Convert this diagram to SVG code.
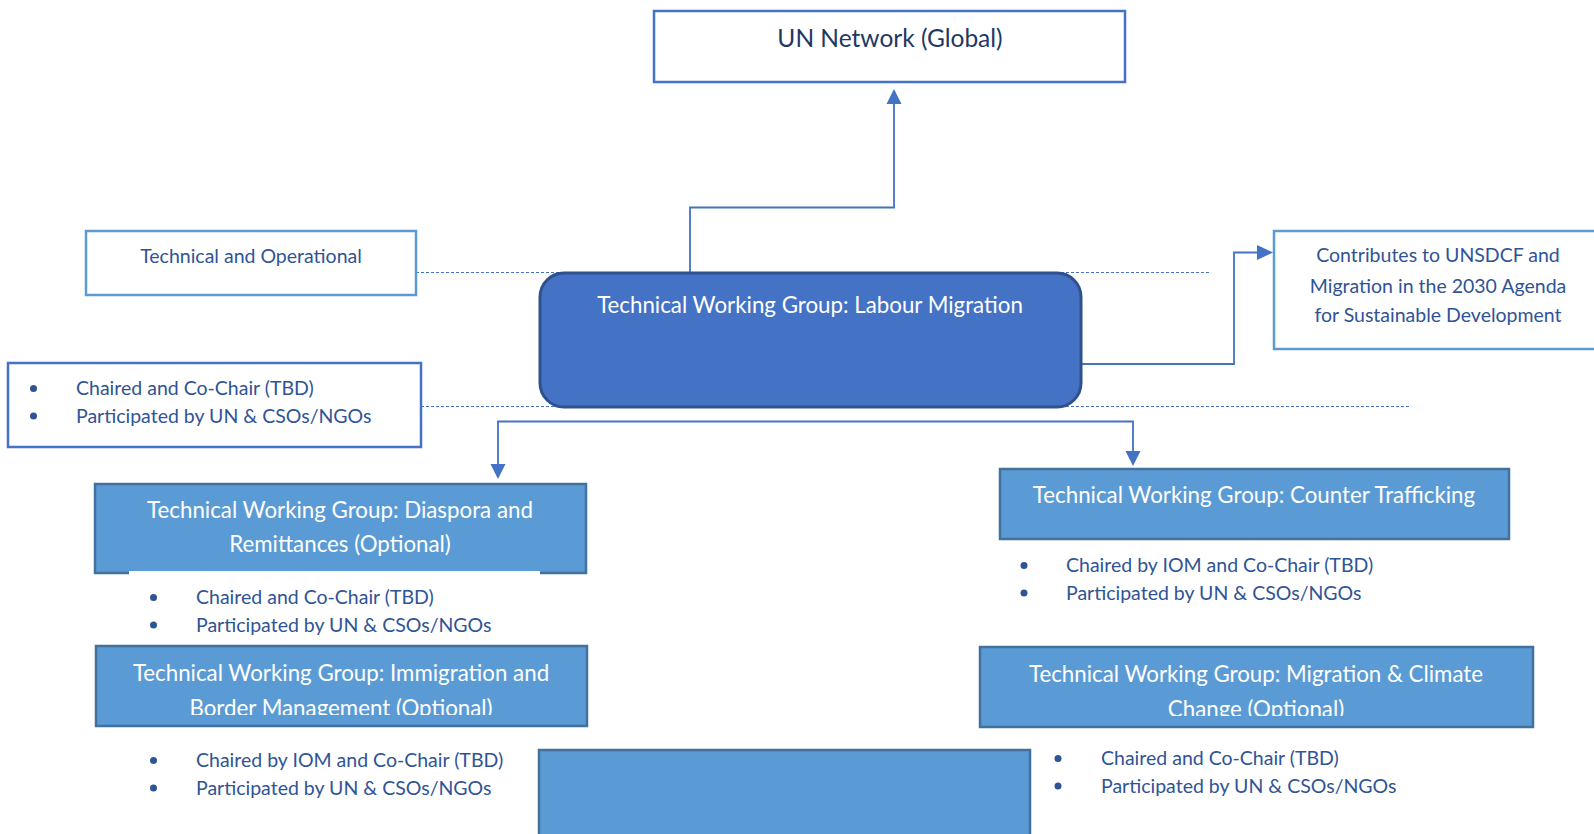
<svg xmlns="http://www.w3.org/2000/svg" width="1594" height="834" viewBox="0 0 1594 834">
<style>
text{font-family:Lato,"Noto Sans",sans-serif}
.t{font-size:19.5px;fill:#2F5496}
.h{font-size:22.3px;fill:#ffffff;text-anchor:middle}
.c{text-anchor:middle}
.sub{fill:#5B9BD5;stroke:#41719C;stroke-width:2.5}
.ob{fill:#ffffff;stroke:#4472C4;stroke-width:2.5}
.lb{fill:#ffffff;stroke:#5B9BD5;stroke-width:2.5}
.dot{fill:#2F5496}
.con{fill:none;stroke:#4472C4;stroke-width:1.8}
.dash{fill:none;stroke:#4472C4;stroke-width:1;stroke-dasharray:3 2}
</style>
<defs>
<clipPath id="clipImm"><rect x="96" y="646" width="491" height="69"/></clipPath>
<clipPath id="clipClim"><rect x="979" y="647" width="554" height="69"/></clipPath>
</defs>
<rect width="1594" height="834" fill="#ffffff"/>

<g id="guides">
<line class="dash" x1="416" y1="272.5" x2="1210" y2="272.5"/>
<line class="dash" x1="421" y1="406.5" x2="1410" y2="406.5"/>
</g>

<g id="connectors">
<polyline class="con" points="690,272 690,207.5 894,207.5 894,100" stroke-width="2"/>
<polygon points="894,89 886.5,104 901.5,104" fill="#4472C4"/>
<polyline class="con" points="1081,364 1234,364 1234,252.5 1258,252.5"/>
<polygon points="1273,252.5 1257,245 1257,260" fill="#4472C4"/>
<polyline class="con" points="498,464 498,421.5 1133,421.5 1133,451"/>
<polygon points="498,479 490.5,464 505.5,464" fill="#4472C4"/>
<polygon points="1133,466 1125.5,451 1140.5,451" fill="#4472C4"/>
</g>

<g id="un-network">
<rect x="654" y="11" width="471" height="71" class="ob" stroke-width="3"/>
<text x="890" y="47" class="c" font-size="24.5" fill="#1F3864">UN Network (Global)</text>
</g>

<g id="tech-operational">
<rect x="86" y="231" width="330" height="64" class="lb"/>
<text x="251" y="263" class="t c">Technical and Operational</text>
</g>

<g id="main-bullets">
<rect x="8" y="363" width="413" height="84" class="ob"/>
<circle cx="33.5" cy="388.5" r="3.5" class="dot"/>
<circle cx="33.5" cy="416" r="3.5" class="dot"/>
<text x="76" y="395" class="t">Chaired and Co-Chair (TBD)</text>
<text x="76" y="423" class="t">Participated by UN &amp; CSOs/NGOs</text>
</g>

<g id="labour-migration">
<rect x="540" y="273" width="541" height="134" rx="24" fill="#4472C4" stroke="#2F528F" stroke-width="3"/>
<text x="810" y="313" class="h">Technical Working Group: Labour Migration</text>
</g>

<g id="contributes">
<rect x="1274" y="231" width="330" height="118" class="lb"/>
<text x="1438" y="262" class="t c">Contributes to UNSDCF and</text>
<text x="1438" y="293" class="t c">Migration in the 2030 Agenda</text>
<text x="1438" y="322" class="t c">for Sustainable Development</text>
</g>

<g id="diaspora">
<rect x="95" y="484" width="491" height="89" class="sub"/>
<rect x="129" y="571" width="411" height="4" fill="#ffffff"/>
<text x="340" y="518" class="h">Technical Working Group: Diaspora and</text>
<text x="340" y="552" class="h">Remittances (Optional)</text>
<circle cx="153.5" cy="597.5" r="3.5" class="dot"/>
<circle cx="153.5" cy="625" r="3.5" class="dot"/>
<text x="196" y="604" class="t">Chaired and Co-Chair (TBD)</text>
<text x="196" y="632" class="t">Participated by UN &amp; CSOs/NGOs</text>
</g>

<g id="counter-trafficking">
<rect x="1000" y="469" width="509" height="70" class="sub"/>
<text x="1254" y="503" class="h">Technical Working Group: Counter Trafficking</text>
<circle cx="1024" cy="565.5" r="3.5" class="dot"/>
<circle cx="1024" cy="593" r="3.5" class="dot"/>
<text x="1066" y="572" class="t">Chaired by IOM and Co-Chair (TBD)</text>
<text x="1066" y="600" class="t">Participated by UN &amp; CSOs/NGOs</text>
</g>

<g id="immigration">
<rect x="96" y="646" width="491" height="80" class="sub"/>
<g clip-path="url(#clipImm)">
<text x="341" y="681" class="h">Technical Working Group: Immigration and</text>
<text x="341" y="716" class="h">Border Management (Optional)</text>
</g>
<circle cx="153.5" cy="760.5" r="3.5" class="dot"/>
<circle cx="153.5" cy="788" r="3.5" class="dot"/>
<text x="196" y="767" class="t">Chaired by IOM and Co-Chair (TBD)</text>
<text x="196" y="795" class="t">Participated by UN &amp; CSOs/NGOs</text>
</g>

<g id="climate">
<rect x="980" y="647" width="553" height="80" class="sub"/>
<g clip-path="url(#clipClim)">
<text x="1256" y="682" class="h">Technical Working Group: Migration &amp; Climate</text>
<text x="1256" y="717" class="h">Change (Optional)</text>
</g>
<circle cx="1058" cy="758.5" r="3.5" class="dot"/>
<circle cx="1058" cy="786" r="3.5" class="dot"/>
<text x="1101" y="765" class="t">Chaired and Co-Chair (TBD)</text>
<text x="1101" y="793" class="t">Participated by UN &amp; CSOs/NGOs</text>
</g>

<g id="bottom-box">
<rect x="539" y="750" width="491" height="100" class="sub"/>
</g>
</svg>
